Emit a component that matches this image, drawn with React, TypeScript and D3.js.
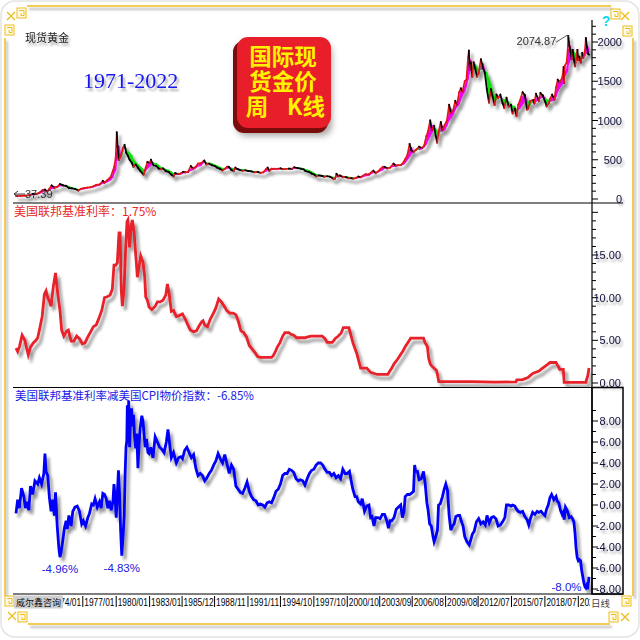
import React from 'react';
import * as d3 from 'd3';

// Weekly spot gold (USD/oz), sampled at decimal-year dates
const goldWeekly: [number, number][] = [
  [1971.0, 37.39], [1971.4, 40.5], [1971.8, 42.5], [1972.2, 48], [1972.5, 65], [1972.8, 63], [1973.1, 80], [1973.4, 115], [1973.6, 120], [1973.8, 95],
  [1974.0, 130], [1974.2, 172], [1974.45, 145], [1974.7, 155], [1974.95, 190], [1975.2, 175], [1975.5, 165], [1975.75, 140], [1976.0, 135], [1976.3, 128],
  [1976.6, 108], [1976.85, 130], [1977.1, 140], [1977.4, 145], [1977.7, 150], [1977.95, 162], [1978.2, 180], [1978.5, 185], [1978.8, 230], [1978.95, 210],
  [1979.2, 240], [1979.5, 280], [1979.7, 360], [1979.8, 400], [1979.95, 520], [1980.05, 850], [1980.12, 670], [1980.25, 500], [1980.45, 560], [1980.6, 650],
  [1980.75, 690], [1980.9, 590], [1981.05, 550], [1981.2, 500], [1981.4, 460], [1981.55, 410], [1981.75, 440], [1981.95, 400], [1982.15, 360], [1982.45, 310],
  [1982.65, 400], [1982.8, 470], [1983.0, 460], [1983.12, 500], [1983.35, 430], [1983.6, 420], [1983.8, 390], [1984.0, 380], [1984.2, 390], [1984.45, 355],
  [1984.7, 345], [1984.95, 310], [1985.15, 290], [1985.3, 330], [1985.55, 320], [1985.8, 325], [1986.0, 345], [1986.2, 340], [1986.45, 345], [1986.7, 420],
  [1986.9, 390], [1987.1, 405], [1987.35, 450], [1987.6, 455], [1987.9, 490], [1988.1, 440], [1988.35, 450], [1988.6, 430], [1988.85, 420], [1989.05, 400],
  [1989.3, 385], [1989.55, 365], [1989.8, 390], [1989.95, 410], [1990.1, 410], [1990.35, 370], [1990.55, 355], [1990.7, 400], [1990.9, 380], [1991.1, 370],
  [1991.35, 360], [1991.6, 365], [1991.85, 358], [1992.1, 352], [1992.4, 340], [1992.7, 345], [1992.95, 332], [1993.2, 340], [1993.45, 380], [1993.6, 400],
  [1993.75, 360], [1993.95, 385], [1994.2, 385], [1994.5, 385], [1994.75, 390], [1994.95, 380], [1995.2, 382], [1995.5, 387], [1995.8, 385], [1996.0, 405],
  [1996.3, 393], [1996.6, 385], [1996.85, 375], [1997.0, 355], [1997.3, 345], [1997.55, 325], [1997.8, 310], [1997.95, 290], [1998.2, 300], [1998.45, 295],
  [1998.7, 285], [1998.95, 290], [1999.2, 285], [1999.5, 258], [1999.65, 258], [1999.78, 320], [1999.95, 290], [2000.1, 300], [2000.35, 280], [2000.6, 280],
  [2000.85, 265], [2001.1, 265], [2001.3, 260], [2001.55, 270], [2001.75, 285], [2001.95, 278], [2002.15, 295], [2002.4, 315], [2002.7, 315], [2002.95, 345],
  [2003.1, 360], [2003.3, 330], [2003.55, 355], [2003.75, 385], [2003.95, 410], [2004.1, 410], [2004.35, 390], [2004.6, 400], [2004.9, 450], [2005.1, 425],
  [2005.35, 430], [2005.6, 435], [2005.85, 480], [2005.98, 515], [2006.15, 560], [2006.35, 700], [2006.5, 620], [2006.7, 600], [2006.95, 630], [2007.2, 665],
  [2007.45, 650], [2007.65, 680], [2007.85, 800], [2008.0, 860], [2008.2, 1000], [2008.35, 880], [2008.55, 930], [2008.7, 800], [2008.82, 720], [2008.98, 870],
  [2009.15, 980], [2009.3, 880], [2009.5, 940], [2009.7, 1000], [2009.9, 1200], [2010.05, 1100], [2010.25, 1120], [2010.45, 1250], [2010.6, 1200], [2010.8, 1360],
  [2010.95, 1410], [2011.1, 1370], [2011.3, 1500], [2011.45, 1520], [2011.6, 1800], [2011.67, 1890], [2011.75, 1650], [2011.85, 1740], [2011.98, 1560], [2012.1, 1740],
  [2012.25, 1660], [2012.4, 1560], [2012.55, 1600], [2012.75, 1780], [2012.95, 1670], [2013.1, 1610], [2013.28, 1400], [2013.48, 1230], [2013.65, 1400], [2013.8, 1310],
  [2013.98, 1200], [2014.15, 1330], [2014.3, 1290], [2014.5, 1330], [2014.7, 1220], [2014.85, 1160], [2015.05, 1290], [2015.25, 1180], [2015.45, 1200], [2015.6, 1090],
  [2015.8, 1150], [2015.95, 1060], [2016.1, 1200], [2016.25, 1250], [2016.5, 1360], [2016.7, 1320], [2016.9, 1140], [2017.0, 1150], [2017.2, 1250], [2017.45, 1260],
  [2017.55, 1220], [2017.7, 1340], [2017.95, 1250], [2018.1, 1350], [2018.3, 1320], [2018.55, 1230], [2018.65, 1180], [2018.85, 1220], [2018.98, 1280], [2019.15, 1330],
  [2019.35, 1270], [2019.5, 1420], [2019.65, 1520], [2019.8, 1490], [2019.98, 1520], [2020.1, 1580], [2020.18, 1680], [2020.22, 1480], [2020.3, 1700], [2020.45, 1740],
  [2020.55, 1900], [2020.6, 2074.87], [2020.7, 1950], [2020.8, 1880], [2020.9, 1780], [2021.0, 1900], [2021.1, 1780], [2021.22, 1690], [2021.35, 1830], [2021.42, 1900],
  [2021.5, 1770], [2021.6, 1810], [2021.72, 1740], [2021.85, 1860], [2021.95, 1800], [2022.1, 1900], [2022.18, 2050], [2022.28, 1930], [2022.38, 1850], [2022.46, 1840],
];

// US federal funds rate (%)
const fedRate: [number, number][] = [
  [1971.0, 4.1], [1971.15, 3.7], [1971.3, 4.2], [1971.55, 5.6], [1971.8, 5.0], [1971.95, 4.1], [1972.1, 3.3], [1972.3, 4.2], [1972.55, 4.7], [1972.8, 5.0],
  [1972.95, 5.3], [1973.15, 6.5], [1973.35, 7.8], [1973.55, 10.4], [1973.7, 10.8], [1973.85, 10.0], [1974.0, 9.6], [1974.15, 9.0], [1974.35, 11.3], [1974.55, 12.9],
  [1974.7, 11.0], [1974.95, 8.5], [1975.1, 6.2], [1975.3, 5.5], [1975.55, 6.1], [1975.7, 6.2], [1975.95, 4.9], [1976.2, 4.9], [1976.45, 5.5], [1976.7, 5.2],
  [1976.95, 4.6], [1977.2, 4.7], [1977.45, 5.4], [1977.7, 6.0], [1977.95, 6.6], [1978.2, 6.8], [1978.45, 7.6], [1978.7, 8.5], [1978.95, 10.0], [1979.2, 10.1],
  [1979.45, 10.3], [1979.65, 11.0], [1979.8, 13.8], [1979.95, 13.8], [1980.1, 14.1], [1980.25, 17.6], [1980.35, 17.6], [1980.45, 11.0], [1980.55, 9.0], [1980.7, 10.9],
  [1980.85, 15.8], [1980.97, 18.9], [1981.05, 19.1], [1981.2, 15.9], [1981.35, 18.5], [1981.45, 19.1], [1981.6, 17.8], [1981.75, 15.1], [1981.9, 12.4], [1982.0, 13.2],
  [1982.2, 14.9], [1982.4, 14.2], [1982.55, 12.6], [1982.65, 10.1], [1982.8, 9.7], [1982.95, 8.9], [1983.2, 8.6], [1983.5, 9.0], [1983.7, 9.5], [1983.95, 9.5],
  [1984.2, 9.7], [1984.45, 10.3], [1984.6, 11.6], [1984.75, 10.5], [1984.95, 8.4], [1985.15, 8.5], [1985.4, 7.8], [1985.65, 7.9], [1985.95, 8.1], [1986.2, 7.5],
  [1986.4, 6.9], [1986.65, 6.2], [1986.95, 6.0], [1987.2, 6.1], [1987.45, 6.7], [1987.7, 7.2], [1987.8, 7.3], [1987.95, 6.8], [1988.2, 6.6], [1988.45, 7.5],
  [1988.7, 8.1], [1988.95, 8.8], [1989.2, 9.85], [1989.45, 9.5], [1989.7, 9.0], [1989.95, 8.45], [1990.2, 8.2], [1990.5, 8.2], [1990.75, 8.0], [1990.95, 7.3],
  [1991.2, 6.1], [1991.45, 5.9], [1991.7, 5.4], [1991.95, 4.4], [1992.2, 4.0], [1992.5, 3.5], [1992.7, 3.1], [1992.95, 3.0], [1993.5, 3.0], [1993.95, 3.0],
  [1994.1, 3.2], [1994.3, 3.7], [1994.5, 4.3], [1994.7, 4.7], [1994.95, 5.5], [1995.15, 5.9], [1995.5, 5.9], [1995.7, 5.7], [1995.95, 5.6], [1996.2, 5.3],
  [1996.5, 5.3], [1996.95, 5.3], [1997.2, 5.4], [1997.5, 5.5], [1997.95, 5.5], [1998.5, 5.5], [1998.75, 5.2], [1998.95, 4.75], [1999.4, 4.75], [1999.55, 5.0],
  [1999.7, 5.25], [1999.95, 5.5], [2000.2, 5.85], [2000.4, 6.5], [2000.9, 6.5], [2001.0, 6.0], [2001.1, 5.5], [2001.25, 4.75], [2001.45, 4.0], [2001.6, 3.5],
  [2001.7, 3.0], [2001.8, 2.5], [2001.95, 1.75], [2002.5, 1.75], [2002.85, 1.25], [2003.45, 1.0], [2004.4, 1.0], [2004.5, 1.25], [2004.75, 1.75], [2004.95, 2.25],
  [2005.25, 2.75], [2005.5, 3.25], [2005.75, 3.75], [2005.95, 4.25], [2006.2, 4.75], [2006.45, 5.25], [2007.6, 5.25], [2007.72, 4.75], [2007.85, 4.5], [2007.95, 4.25],
  [2008.05, 3.0], [2008.2, 2.25], [2008.33, 2.0], [2008.75, 1.5], [2008.85, 1.0], [2008.97, 0.15], [2010.0, 0.15], [2012.0, 0.15], [2014.0, 0.1], [2015.9, 0.13],
  [2015.98, 0.37], [2016.5, 0.4], [2016.98, 0.65], [2017.2, 0.9], [2017.45, 1.15], [2017.97, 1.4], [2018.2, 1.65], [2018.45, 1.9], [2018.72, 2.15], [2018.97, 2.4],
  [2019.5, 2.4], [2019.6, 2.15], [2019.72, 1.9], [2019.83, 1.6], [2020.15, 1.6], [2020.2, 0.65], [2020.23, 0.08], [2021.0, 0.08], [2022.0, 0.08], [2022.2, 0.08],
  [2022.22, 0.33], [2022.35, 0.83], [2022.44, 1.58], [2022.46, 1.75],
];

// Fed funds rate minus US CPI inflation (%)
const realRate: [number, number][] = [
  [1971.0, -0.8], [1971.15, 0.5], [1971.3, -0.3], [1971.5, 1.6], [1971.7, 0.8], [1971.85, -0.3], [1972.0, 0.3], [1972.15, -0.5], [1972.3, 1.8], [1972.5, 1.0],
  [1972.7, 2.3], [1972.95, 2.0], [1973.1, 2.6], [1973.3, 2.0], [1973.5, 3.0], [1973.6, 4.9], [1973.7, 3.2], [1973.85, 2.8], [1974.0, 0.7], [1974.15, -0.6],
  [1974.3, 0.5], [1974.45, -1.0], [1974.55, 1.2], [1974.7, -2.0], [1974.85, -4.1], [1974.95, -4.96], [1975.05, -4.5], [1975.2, -3.4], [1975.35, -2.2], [1975.5, -1.5],
  [1975.6, -2.3], [1975.75, -1.0], [1975.95, -2.0], [1976.1, -0.6], [1976.3, -0.2], [1976.5, -0.1], [1976.7, -0.6], [1976.9, -1.8], [1977.05, -1.5], [1977.25, -2.0],
  [1977.45, -1.2], [1977.6, -0.8], [1977.8, 0.1], [1977.95, 0.0], [1978.1, 0.6], [1978.3, -0.2], [1978.5, 0.3], [1978.65, -0.3], [1978.8, 1.1], [1978.95, 1.0],
  [1979.1, 0.6], [1979.25, -0.3], [1979.4, 0.4], [1979.55, -0.5], [1979.7, 0.3], [1979.8, 2.0], [1979.9, 0.7], [1980.0, -1.2], [1980.1, 1.0], [1980.2, 3.3],
  [1980.3, 1.0], [1980.4, -2.5], [1980.5, -4.83], [1980.55, -4.0], [1980.62, -2.8], [1980.72, -1.0], [1980.8, 3.0], [1980.88, 5.5], [1980.95, 6.1], [1981.0, 9.5],
  [1981.05, 6.5], [1981.12, 9.9], [1981.2, 5.5], [1981.28, 8.0], [1981.38, 9.2], [1981.45, 7.5], [1981.55, 8.6], [1981.65, 6.5], [1981.75, 5.4], [1981.85, 6.8],
  [1981.95, 3.5], [1982.05, 5.8], [1982.15, 7.3], [1982.3, 8.5], [1982.4, 8.0], [1982.5, 6.8], [1982.6, 5.5], [1982.72, 6.3], [1982.85, 5.0], [1982.95, 4.9],
  [1983.1, 5.5], [1983.3, 4.5], [1983.5, 6.5], [1983.7, 6.0], [1983.9, 5.5], [1984.1, 5.3], [1984.3, 5.0], [1984.5, 6.0], [1984.65, 7.2], [1984.8, 5.8],
  [1984.95, 4.5], [1985.15, 5.0], [1985.4, 4.0], [1985.6, 4.5], [1985.8, 4.6], [1985.95, 4.4], [1986.15, 5.2], [1986.35, 5.5], [1986.55, 5.0], [1986.75, 4.5],
  [1986.95, 4.8], [1987.15, 3.5], [1987.35, 2.8], [1987.55, 3.0], [1987.75, 2.8], [1987.95, 2.3], [1988.15, 2.6], [1988.35, 3.0], [1988.55, 3.3], [1988.75, 3.8],
  [1988.95, 4.2], [1989.15, 4.9], [1989.35, 4.4], [1989.55, 4.0], [1989.75, 4.8], [1989.95, 3.9], [1990.15, 3.0], [1990.35, 3.8], [1990.55, 3.4], [1990.75, 1.8],
  [1990.95, 1.5], [1991.15, 1.2], [1991.35, 1.1], [1991.55, 1.6], [1991.75, 2.2], [1991.95, 1.3], [1992.15, 0.8], [1992.35, 0.5], [1992.55, 0.4], [1992.75, 0.0],
  [1992.95, 0.1], [1993.15, 0.0], [1993.35, -0.2], [1993.55, 0.2], [1993.75, 0.3], [1993.95, 0.2], [1994.15, 0.7], [1994.35, 1.3], [1994.55, 1.5], [1994.75, 2.0],
  [1994.95, 2.8], [1995.15, 3.0], [1995.35, 3.0], [1995.55, 3.4], [1995.75, 3.3], [1995.95, 3.1], [1996.15, 2.5], [1996.35, 2.3], [1996.55, 2.4], [1996.75, 2.3],
  [1996.95, 1.9], [1997.15, 2.5], [1997.35, 3.0], [1997.55, 3.3], [1997.75, 3.4], [1997.95, 3.8], [1998.15, 4.0], [1998.35, 4.0], [1998.55, 3.8], [1998.75, 3.4],
  [1998.95, 3.1], [1999.15, 3.1], [1999.35, 2.8], [1999.55, 3.0], [1999.75, 2.6], [1999.95, 2.8], [2000.15, 2.5], [2000.35, 3.4], [2000.55, 3.0], [2000.75, 3.0],
  [2000.95, 3.2], [2001.1, 2.3], [2001.25, 1.5], [2001.45, 0.8], [2001.6, 0.8], [2001.75, 0.3], [2001.95, 0.1], [2002.1, 0.6], [2002.3, -0.6], [2002.5, -0.1],
  [2002.7, 0.0], [2002.85, -1.2], [2002.98, -1.1], [2003.15, -2.0], [2003.3, -1.2], [2003.5, -1.2], [2003.7, -1.3], [2003.9, -0.9], [2004.1, -0.9], [2004.3, -1.5],
  [2004.45, -2.2], [2004.6, -1.5], [2004.75, -1.5], [2004.95, -1.2], [2005.15, -0.4], [2005.35, -0.2], [2005.55, 0.0], [2005.7, -1.2], [2005.85, -0.6], [2005.95, 0.8],
  [2006.15, 1.0], [2006.35, 1.0], [2006.5, 1.1], [2006.7, 1.3], [2006.8, 3.8], [2006.9, 3.2], [2007.05, 3.2], [2007.2, 2.4], [2007.4, 2.5], [2007.6, 3.2],
  [2007.75, 2.0], [2007.9, 0.2], [2008.0, -0.4], [2008.15, -1.8], [2008.3, -2.0], [2008.45, -3.0], [2008.55, -3.5], [2008.7, -3.0], [2008.85, -2.4], [2008.95, 0.0],
  [2009.1, 0.1], [2009.3, 0.8], [2009.45, 1.5], [2009.6, 2.0], [2009.75, 1.4], [2009.9, -1.0], [2010.05, -2.4], [2010.2, -2.0], [2010.35, -1.8], [2010.5, -1.1],
  [2010.7, -1.0], [2010.85, -1.0], [2010.98, -1.5], [2011.15, -2.0], [2011.3, -3.0], [2011.5, -3.5], [2011.7, -3.8], [2011.85, -3.3], [2011.98, -2.8], [2012.15, -2.5],
  [2012.35, -1.6], [2012.55, -1.3], [2012.75, -1.8], [2012.95, -1.6], [2013.15, -1.9], [2013.3, -1.0], [2013.5, -1.7], [2013.7, -1.2], [2013.9, -1.1], [2014.1, -1.3],
  [2014.3, -2.0], [2014.5, -1.9], [2014.7, -1.6], [2014.9, -1.2], [2015.05, 0.0], [2015.25, 0.0], [2015.45, -0.1], [2015.6, 0.0], [2015.8, -0.1], [2015.95, -0.4],
  [2016.1, -0.6], [2016.3, -0.7], [2016.5, -0.6], [2016.7, -1.1], [2016.9, -1.4], [2017.05, -1.9], [2017.2, -1.3], [2017.4, -0.7], [2017.6, -0.9], [2017.8, -0.6],
  [2017.95, -0.7], [2018.15, -0.6], [2018.3, -0.8], [2018.5, -1.0], [2018.65, -0.4], [2018.8, 0.0], [2018.95, 0.7], [2019.1, 1.0], [2019.3, 0.5], [2019.5, 0.8],
  [2019.6, 0.4], [2019.75, 0.2], [2019.9, -0.5], [2020.05, -0.9], [2020.15, -0.7], [2020.23, -1.4], [2020.35, -0.2], [2020.5, -0.5], [2020.7, -1.2], [2020.85, -1.1],
  [2020.98, -1.3], [2021.1, -1.6], [2021.2, -2.6], [2021.3, -4.1], [2021.4, -5.0], [2021.5, -5.3], [2021.6, -5.2], [2021.7, -5.3], [2021.8, -6.2], [2021.9, -6.8],
  [2022.0, -7.4], [2022.1, -7.8], [2022.18, -7.9], [2022.25, -7.7], [2022.33, -8.0], [2022.38, -7.5], [2022.42, -7.3], [2022.46, -6.85],
];

const goldTicks = [0, 500, 1000, 1500, 2000];
const fedTicks = [0, 5, 10, 15];
const realTicks = [-8, -6, -4, -2, 0, 2, 4, 6, 8];
const dateLabels = ['1974/01', '1977/01', '1980/01', '1983/01', '1985/12', '1988/11', '1991/11', '1994/10', '1997/10', '2000/10', '2003/09', '2006/08', '2009/08', '2012/07', '2015/07', '2018/07', '2021/07'];

const titleLines = ['国际现', '货金价'];

const FRAME = '#eebd1c';
const AXIS_TXT = '#10103a';
const CJK = '"Noto Sans CJK SC", sans-serif';
const SANS = '"Liberation Sans", Arial, sans-serif';

const x = d3.scaleLinear().domain([1971.0, 2022.46]).range([16, 589]);
const yGold = d3.scaleLinear().domain([0, 2000]).range([199, 42]);
const yFed = d3.scaleLinear().domain([0, 15]).range([383, 255]);
const yReal = d3.scaleLinear().domain([-8, 8]).range([589, 421]);

// trailing moving average over a time window (years)
function trailingMA(data: [number, number][], w: number): number[] {
  return data.map(([t], i) => {
    let s = 0, n = 0;
    for (let j = i; j >= 0 && data[j][0] > t - w; j--) { s += data[j][1]; n++; }
    return s / n;
  });
}

function Ornament({ x0, y0 }: { x0: number; y0: number }) {
  return (
    <g>
      <rect x={x0} y={y0} width={9} height={10} fill="#fffbe8" stroke={FRAME} strokeWidth={1} />
      <path d={`M${x0 + 2},${y0 + 2.5} h5 v5 h-3 v-2.5`} fill="none" stroke={FRAME} strokeWidth={1} />
    </g>
  );
}

function Cross({ x0, y0 }: { x0: number; y0: number }) {
  return (
    <path d={`M${x0},${y0} l8,8 M${x0 + 8},${y0} l-8,8`} stroke={FRAME} strokeWidth={1.3} />
  );
}

export default function App() {
  const fast = trailingMA(goldWeekly, 0.3);
  const slow = trailingMA(goldWeekly, 0.8);

  const bandArea = d3.area<number>()
    .x((i) => x(goldWeekly[i][0]))
    .y0((i) => yGold(slow[i]))
    .y1((i) => yGold(fast[i]));

  const bands = goldWeekly.slice(1).map((_, k) => {
    const i = k + 1;
    const up = fast[i] + fast[i - 1] >= slow[i] + slow[i - 1];
    return { d: bandArea([i - 1, i]) || '', color: up ? '#f000f0' : '#10e010' };
  });

  const goldSegs = goldWeekly.slice(1).map((p, k) => {
    const prev = goldWeekly[k];
    return {
      x1: x(prev[0]), y1: yGold(prev[1]), x2: x(p[0]), y2: yGold(p[1]),
      color: p[1] >= prev[1] ? '#e01818' : '#000000',
    };
  });

  const fedLine = d3.line<[number, number]>().x((d) => x(d[0])).y((d) => yFed(d[1]));
  const realLine = d3.line<[number, number]>().x((d) => x(d[0])).y((d) => yReal(d[1]));

  const peak = goldWeekly.reduce((a, b) => (b[1] > a[1] ? b : a));
  const low = goldWeekly.reduce((a, b) => (b[1] < a[1] ? b : a));
  const px = x(peak[0]), py = yGold(peak[1]);
  const ly = yGold(low[1]) - 2;

  const realLows = [realRate.find((d) => d[1] === -4.96)!, realRate.find((d) => d[1] === -4.83)!];
  const realMin = realRate.reduce((a, b) => (b[1] < a[1] ? b : a));
  const lastFed = fedRate[fedRate.length - 1][1];
  const lastReal = realRate[realRate.length - 1][1];

  const dateX = (s: string) => {
    const [yy, mm] = s.split('/').map(Number);
    return x(yy + (mm - 1) / 12);
  };

  const goldMinor = d3.range(0, 2201, 100);
  const fedMinor = d3.range(0, 21, 1).filter((v) => yFed(v) > 207);
  const realMinor = d3.range(-8, 10, 1);

  return (
    <svg width={640} height={640} style={{ position: 'absolute', left: 0, top: 0, background: '#fff' }}
      xmlns="http://www.w3.org/2000/svg">
      <defs>
        <filter id="sh" filterUnits="userSpaceOnUse" x={0} y={0} width={640} height={640}>
          <feGaussianBlur in="SourceAlpha" stdDeviation={1.8} />
          <feOffset dx={3} dy={4} result="o" />
          <feComponentTransfer><feFuncA type="linear" slope={0.42} /></feComponentTransfer>
          <feMerge><feMergeNode /><feMergeNode in="SourceGraphic" /></feMerge>
        </filter>
        <filter id="tsh" filterUnits="userSpaceOnUse" x={0} y={0} width={640} height={640}>
          <feGaussianBlur in="SourceAlpha" stdDeviation={1.2} />
          <feOffset dx={2} dy={3} result="o" />
          <feComponentTransfer><feFuncA type="linear" slope={0.35} /></feComponentTransfer>
          <feMerge><feMergeNode /><feMergeNode in="SourceGraphic" /></feMerge>
        </filter>
        <filter id="boxsh" filterUnits="userSpaceOnUse" x={0} y={0} width={640} height={640}>
          <feGaussianBlur stdDeviation={3} />
        </filter>
        <clipPath id="cTop"><rect x={8} y={8} width={584} height={195} /></clipPath>
        <clipPath id="cMid"><rect x={8} y={204} width={584} height={183} /></clipPath>
        <clipPath id="cBot"><rect x={8} y={388} width={584} height={206} /></clipPath>
        <clipPath id="cDate"><rect x={63} y={595} width={527} height={16} /></clipPath>
      </defs>

      {/* outer rounded frame */}
      <rect x={1} y={1} width={638} height={636} rx={14} fill="none" stroke="#e4e4e4" strokeWidth={1.5} />
      <g filter="url(#tsh)">
        <line x1={27} y1={6} x2={611} y2={6} stroke={FRAME} strokeWidth={1.5} />
        <line x1={5} y1={38} x2={5} y2={596} stroke={FRAME} strokeWidth={1.5} />
        <line x1={633} y1={38} x2={633} y2={596} stroke={FRAME} strokeWidth={1.5} />
        <line x1={28} y1={624} x2={610} y2={624} stroke={FRAME} strokeWidth={1.5} />
      </g>
      <Ornament x0={17} y0={8} />
      <Cross x0={7} y0={12} />
      <Ornament x0={5} y0={25} />
      <Ornament x0={611} y0={9} />
      <Cross x0={621} y0={12} />
      <Ornament x0={623} y0={26} />
      <Ornament x0={5} y0={596} />
      <Cross x0={8} y0={612} />
      <Ornament x0={18} y0={612} />
      <Ornament x0={622} y0={596} />
      <Ornament x0={609} y0={612} />
      <Cross x0={621} y0={613} />

      {/* panel grid lines */}
      <line x1={13} y1={203} x2={623} y2={203} stroke="#000" strokeWidth={1.2} />
      <line x1={13} y1={387.5} x2={623} y2={387.5} stroke="#000" strokeWidth={1.2} />
      <line x1={13} y1={594} x2={623} y2={594} stroke="#000" strokeWidth={1.2} />
      <line x1={592} y1={20} x2={592} y2={594} stroke="#000" strokeWidth={1.2} />
      <rect x={592} y={387.5} width={31} height={206.5} fill="none" stroke="#000" strokeWidth={1.5} />

      {/* right axes */}
      <g>
        {goldMinor.map((v) => (
          <line key={'gm' + v} x1={592} x2={v % 500 === 0 ? 598 : 596} y1={yGold(v)} y2={yGold(v)} stroke="#000" strokeWidth={1} />
        ))}
        {fedMinor.map((v) => (
          <line key={'fm' + v} x1={592} x2={v % 5 === 0 ? 598 : 596} y1={yFed(v)} y2={yFed(v)} stroke="#000" strokeWidth={1} />
        ))}
        {realMinor.map((v) => (
          <line key={'rm' + v} x1={592} x2={v % 2 === 0 ? 598 : 596} y1={yReal(v)} y2={yReal(v)} stroke="#000" strokeWidth={1} />
        ))}
      </g>
      <g filter="url(#tsh)" fontFamily={SANS} fontSize={11} fill={AXIS_TXT} textAnchor="end">
        {goldTicks.map((v) => (
          <text key={'gt' + v} x={622} y={yGold(v) + 4}>{v}</text>
        ))}
        {fedTicks.map((v) => (
          <text key={'ft' + v} x={621} y={yFed(v) + 4}>{v.toFixed(2)}</text>
        ))}
        {realTicks.map((v) => (
          <text key={'rt' + v} x={621} y={yReal(v) + 4}>{v.toFixed(2)}</text>
        ))}
      </g>
      <text x={606} y={26} fontFamily={SANS} fontWeight="bold" fontSize={14} fill="#10d8f0" textAnchor="middle">?</text>

      {/* top panel: weekly gold */}
      <g clipPath="url(#cTop)">
        <g filter="url(#sh)">
          {bands.map((b, i) => (
            <path key={'b' + i} d={b.d} fill={b.color} stroke={b.color} strokeWidth={0.8} />
          ))}
          {goldSegs.map((s, i) => (
            <line key={'s' + i} x1={s.x1} y1={s.y1} x2={s.x2} y2={s.y2} stroke={s.color} strokeWidth={1.7} strokeLinecap="square" />
          ))}
        </g>
      </g>
      <text x={25} y={42} fontFamily={CJK} fontSize={11} fill="#222" filter="url(#tsh)">现货黄金</text>
      <text x={83} y={88} fontFamily='"Liberation Serif", "Times New Roman", serif' fontSize={22} fill="#1414f0" filter="url(#tsh)">1971-2022</text>

      {/* title badge */}
      <rect x={236} y={42} width={96} height={94} rx={11} fill="#555" opacity={0.5} filter="url(#boxsh)" />
      <rect x={233} y={41} width={95} height={92} rx={11} fill="#7a0c0c" />
      <rect x={237} y={37} width={94} height={91} rx={11} fill="#e81e2a" />
      <g fontFamily={CJK} fontWeight="bold" fontSize={22.5} fill="#fff200" textAnchor="middle">
        {titleLines.map((t, i) => (
          <text key={t} x={283} y={65 + i * 25}>{t}</text>
        ))}
        <text x={257} y={115}>周</text>
        <text x={306} y={115}>K线</text>
      </g>

      {/* extreme labels */}
      <line x1={px - 12} y1={py + 6} x2={px - 1} y2={py - 1} stroke="#333" strokeWidth={0.8} />
      <line x1={px - 1} y1={py - 1} x2={px + 1} y2={py + 2} stroke="#333" strokeWidth={0.8} />
      <text x={px - 12} y={py + 9} fontFamily={SANS} fontSize={11} fill="#333" textAnchor="end" filter="url(#tsh)">{peak[1].toFixed(2)}</text>
      <path d={`M25,${ly} H14 M14,${ly} l4,-3 M14,${ly} l4,3`} fill="none" stroke="#333" strokeWidth={1} />
      <text x={25} y={ly + 4} fontFamily={SANS} fontSize={11} fill="#333" filter="url(#tsh)">{low[1].toFixed(2)}</text>

      {/* middle panel: fed funds rate */}
      <g clipPath="url(#cMid)">
        <path d={fedLine(fedRate) || ''} fill="none" stroke="#e8202a" strokeWidth={2.8} strokeLinejoin="miter" filter="url(#sh)" />
      </g>
      <text x={14} y={216} fontFamily={CJK} fontSize={12} fill="#e82828">美国联邦基准利率：{lastFed.toFixed(2)}%</text>

      {/* bottom panel: fed funds rate minus CPI */}
      <g clipPath="url(#cBot)">
        <path d={realLine(realRate) || ''} fill="none" stroke="#0000f8" strokeWidth={2.8} strokeLinejoin="miter" filter="url(#sh)" />
      </g>
      <text x={15} y={400} fontFamily={CJK} fontSize={11.5} fill="#1a1ae8">美国联邦基准利率减美国CPI物价指数：{lastReal.toFixed(2)}%</text>
      {realLows.map((d) => (
        <text key={'lo' + d[0]} x={x(d[0])} y={yReal(d[1]) + 16} fontFamily={SANS} fontSize={11.5} fill="#2020e0" textAnchor="middle">{d[1].toFixed(2)}%</text>
      ))}
      <text x={x(realMin[0]) - 6} y={yReal(realMin[1]) + 2} fontFamily={SANS} fontSize={11.5} fill="#2020e0" textAnchor="end">{realMin[1].toFixed(1)}%</text>

      {/* date axis: condensed labels, clipped between the badge and the period tag */}
      <g clipPath="url(#cDate)" fontFamily={SANS} fontSize={11} fill="#000">
        {dateLabels.map((s) => (
          <g key={s}>
            <line x1={dateX(s)} x2={dateX(s)} y1={596} y2={607} stroke="#000" strokeWidth={1} />
            <text transform={`translate(${dateX(s) + 1.5},606) scale(0.76,1)`}>{s}</text>
          </g>
        ))}
      </g>
      <rect x={14} y={595.5} width={49} height={13} fill="#cfcfcf" />
      <text x={16} y={606} fontFamily={CJK} fontSize={9} fill="#111">威尔鑫咨询</text>
      <rect x={590} y={595.5} width={20} height={14} fill="#fff" />
      <text x={591} y={607} fontFamily={CJK} fontSize={9.5} fill="#444">日线</text>
    </svg>
  );
}
